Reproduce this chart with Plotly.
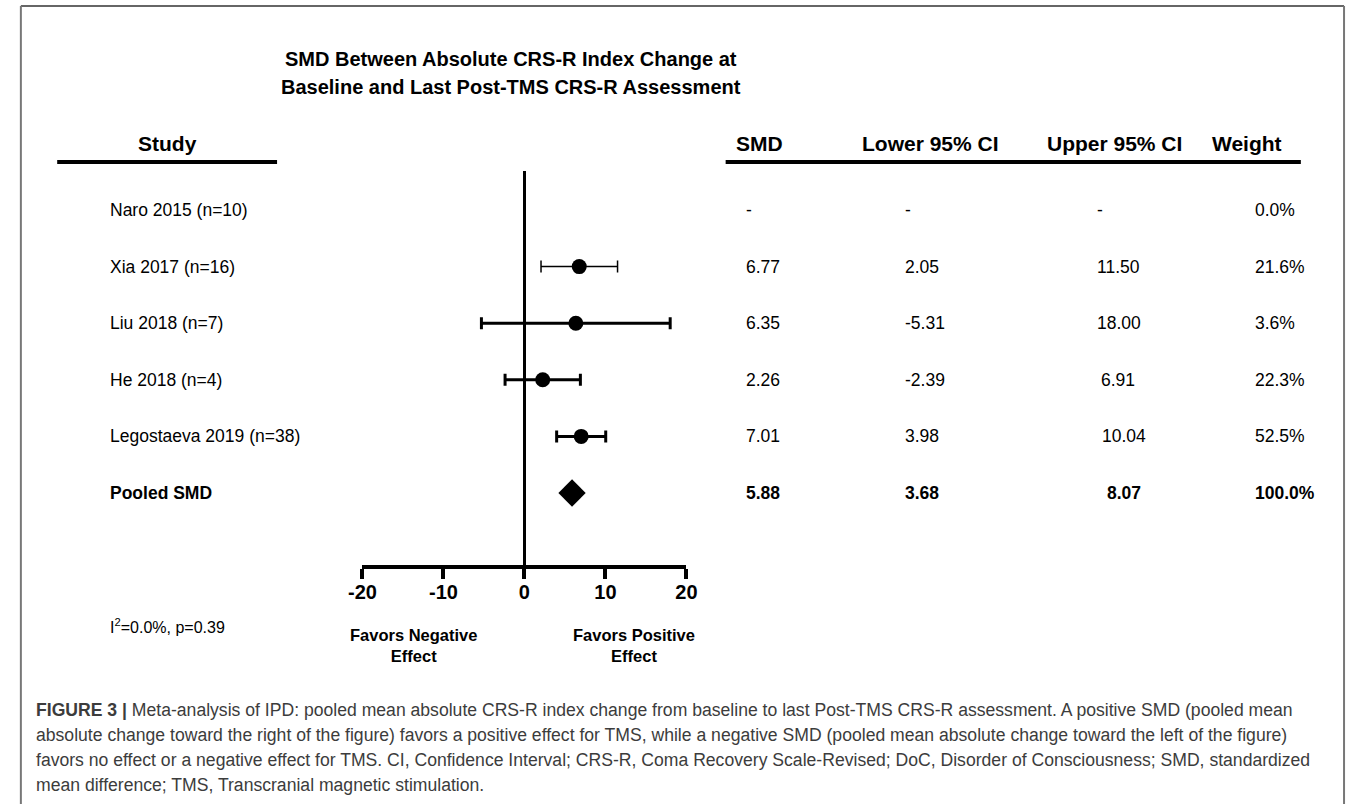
import plotly.graph_objects as go

# ---------------- data ----------------
studies = ["Naro 2015 (n=10)", "Xia 2017 (n=16)", "Liu 2018 (n=7)", "He 2018 (n=4)",
           "Legostaeva 2019 (n=38)"]
smd = [None, 6.77, 6.35, 2.26, 7.01]
lower = [None, 2.05, -5.31, -2.39, 3.98]
upper = [None, 11.50, 18.00, 6.91, 10.04]
weight = ["0.0%", "21.6%", "3.6%", "22.3%", "52.5%"]

pooled_label = "Pooled SMD"
pooled_smd = 5.88
pooled_lower = 3.68
pooled_upper = 8.07
pooled_weight = "100.0%"

tick_vals = [-20, -10, 0, 10, 20]
tick_labels = ["-20", "-10", "0", "10", "20"]

col_headers = ["SMD", "Lower 95% CI", "Upper 95% CI", "Weight"]
title_lines = ["SMD Between Absolute CRS-R Index Change at",
               "Baseline and Last Post-TMS CRS-R Assessment"]
heterogeneity = "I<sup>2</sup>=0.0%, p=0.39"
favor_left = ["Favors Negative", "Effect"]
favor_right = ["Favors Positive", "Effect"]
caption_lines = [
    "<b>FIGURE 3 |</b> Meta-analysis of IPD: pooled mean absolute CRS-R index change from baseline to last Post-TMS CRS-R assessment. A positive SMD (pooled mean",
    "absolute change toward the right of the figure) favors a positive effect for TMS, while a negative SMD (pooled mean absolute change toward the left of the figure)",
    "favors no effect or a negative effect for TMS. CI, Confidence Interval; CRS-R, Coma Recovery Scale-Revised; DoC, Disorder of Consciousness; SMD, standardized",
    "mean difference; TMS, Transcranial magnetic stimulation.",
]

# ---------------- layout helpers ----------------
W, H = 1357, 804
FONT = "Liberation Sans, Arial, sans-serif"


def px(x):
    return x / W


def py(y):
    return 1 - y / H


ROW0, PITCH = 210, 56.6          # pixel y of first row, row spacing
AX_TOP, AX_BOT = 171, 565        # pixel extent of forest panel
r_top = (AX_TOP - ROW0) / PITCH
r_bot = (AX_BOT - ROW0) / PITCH

errbar_thickness = [2, 1.5, 3, 3, 3]
upper_dx = [0, 0, 0, 4, 5, 10]   # small per-row nudges of the upper-CI column (pixels)

fig = go.Figure()

for i, name in enumerate(studies):
    if smd[i] is None:
        continue
    fig.add_trace(go.Scatter(
        x=[smd[i]], y=[i], mode="markers",
        marker=dict(symbol="circle", size=15, color="black"),
        error_x=dict(type="data", symmetric=False,
                     array=[upper[i] - smd[i]], arrayminus=[smd[i] - lower[i]],
                     color="black", thickness=errbar_thickness[i], width=6),
        showlegend=False, hoverinfo="skip",
    ))

pooled_row = len(studies)
fig.add_trace(go.Scatter(
    x=[pooled_smd], y=[pooled_row], mode="markers",
    marker=dict(symbol="diamond", size=21, color="black"),
    showlegend=False, hoverinfo="skip",
))

ann = []


def text(t, x, y, size, xref="paper", yref="paper", anchor="left", bold=False, color="black"):
    if bold:
        t = f"<b>{t}</b>"
    ann.append(dict(text=t, x=x, y=y, xref=xref, yref=yref, xanchor=anchor, yanchor="middle",
                    showarrow=False, align="center",
                    font=dict(family=FONT, size=size, color=color)))


# titles
for k, t in enumerate(title_lines):
    text(t, px(506), py(59 + 28 * k), 20, anchor="center", bold=True)
# headers
text("Study", px(156), py(143), 21, anchor="center", bold=True)
header_x = [759, 934, 1121, 1256]
for h, xx in zip(col_headers, header_x):
    text(h, px(xx), py(143), 21, anchor="center", bold=True)

# table rows
col_x = [744, 906, 1101, 1262]
for i, name in enumerate(studies):
    text(name, px(96), i, 17.5, yref="y")
    for j, v in enumerate([smd[i], lower[i], upper[i]]):
        txt = "-" if v is None else f"{v:.2f}"
        dx = upper_dx[i] if j == 2 else 0
        text(txt, px(col_x[j] + dx), i, 17.5, yref="y")
    text(weight[i], px(col_x[3]), i, 17.5, yref="y")

pooled_vals = [f"{pooled_smd:.2f}", f"{pooled_lower:.2f}", f"{pooled_upper:.2f}", pooled_weight]
text(pooled_label, px(96), pooled_row, 17.5, yref="y", bold=True)
for j, t in enumerate(pooled_vals):
    dx = upper_dx[pooled_row] if j == 2 else 0
    text(t, px(col_x[j] + dx), pooled_row, 17.5, yref="y", bold=True)

# heterogeneity and favour labels
text(heterogeneity, px(96), py(626), 16)
text("<br>".join(f"<b>{s}</b>" for s in favor_left), -13.7, py(645), 16.5, xref="x", anchor="center")
text("<br>".join(f"<b>{s}</b>" for s in favor_right), 13.5, py(645), 16.5, xref="x", anchor="center")

# caption
for k, line in enumerate(caption_lines):
    text(line, px(20), py(710 + 25 * k), 17.6, color="#3c3c3c")

shapes = [
    # header rules
    dict(type="line", xref="paper", yref="paper", x0=px(44), x1=px(268), y0=py(162), y1=py(162),
         line=dict(color="black", width=4)),
    dict(type="line", xref="paper", yref="paper", x0=px(725), x1=px(1311), y0=py(162), y1=py(162),
         line=dict(color="black", width=4)),
    # frame
    dict(type="line", xref="paper", yref="paper", x0=px(7), x1=px(1355), y0=py(6), y1=py(6),
         line=dict(color="#666666", width=2)),
    dict(type="line", xref="paper", yref="paper", x0=px(7), x1=px(7), y0=py(6), y1=py(806),
         line=dict(color="#777777", width=2)),
    dict(type="line", xref="paper", yref="paper", x0=px(1355), x1=px(1355), y0=py(6), y1=py(806),
         line=dict(color="#777777", width=2)),
]

fig.update_layout(
    width=W, height=H, margin=dict(l=0, r=0, t=0, b=0),
    paper_bgcolor="white", plot_bgcolor="white",
    annotations=ann, shapes=shapes,
    xaxis=dict(domain=[px(355), px(685)], range=[-20, 20], showgrid=False,
               zeroline=True, zerolinecolor="black", zerolinewidth=3,
               showline=True, linecolor="black", linewidth=4,
               ticks="outside", ticklen=10, tickwidth=4, tickcolor="black",
               ticklabelstandoff=-4,
               tickvals=tick_vals, ticktext=[f"<b>{t}</b>" for t in tick_labels],
               tickfont=dict(family=FONT, size=20, color="black"), fixedrange=True),
    yaxis=dict(domain=[py(AX_BOT), py(AX_TOP)], range=[r_bot, r_top], visible=False,
               fixedrange=True),
)

fig.write_html("out.html", config={"displayModeBar": False},
               post_script="document.body.style.margin='0';document.body.style.overflow='hidden';")
